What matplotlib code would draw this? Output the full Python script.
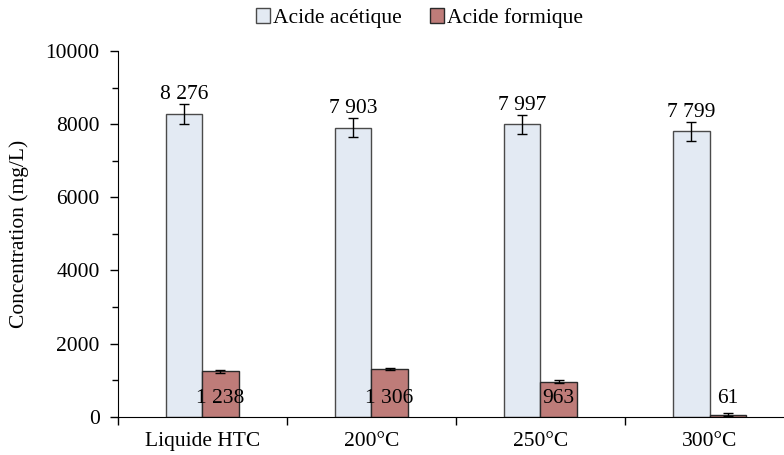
import numpy as np
import matplotlib
matplotlib.use("Agg")
import matplotlib.pyplot as plt
from matplotlib.ticker import MultipleLocator

# Data
categories = ["Liquide HTC", "200°C", "250°C", "300°C"]
acetique = [8276, 7903, 7997, 7799]
acetique_err = [265, 265, 255, 260]
formique = [1238, 1306, 963, 61]
formique_err = [35, 35, 35, 40]
acetique_lbl = ["8 276", "7 903", "7 997", "7 799"]
formique_lbl = ["1 238", "1 306", "963", "61"]

plt.rcParams['font.family'] = ['Liberation Serif', 'DejaVu Serif']
fs = 15.5

fig = plt.figure(figsize=(7.84, 4.55), dpi=100)
ax = fig.add_axes([0.15, 0.084, 0.85, 0.804])

x = np.arange(len(categories))
w = 0.216
err_kw = dict(ecolor='black', capsize=3.5, elinewidth=1.0, capthick=1.0)
b1 = ax.bar(x - w / 2, acetique, w, yerr=acetique_err, color='#E3EAF3',
            edgecolor='#4a4a4a', linewidth=1.0, error_kw=err_kw, label='Acide acétique')
b2 = ax.bar(x + w / 2, formique, w, yerr=formique_err, color='#BE7C79',
            edgecolor='#2a2a2a', linewidth=1.0, error_kw=err_kw, label='Acide formique')

# value labels
for xi, v, e, t in zip(x - w / 2, acetique, acetique_err, acetique_lbl):
    ax.annotate(t, (xi, v + e), xytext=(0, 0), textcoords='offset points',
                ha='center', va='bottom', fontsize=fs)
for xi, t in zip(x + w / 2, formique_lbl):
    ax.annotate(t, (xi, 0), xytext=(0, 13), textcoords='offset points',
                ha='center', va='center', fontsize=fs)

ax.set_ylim(0, 10000)
ax.set_xlim(-0.5, 3.44)
ax.yaxis.set_major_locator(MultipleLocator(2000))
ax.yaxis.set_minor_locator(MultipleLocator(1000))
ax.set_xticks(x)
ax.set_xticklabels(categories)
ax.set_xticks(np.arange(-0.5, 3.0, 1.0), minor=True)
ax.tick_params(axis='x', which='major', length=0, labelsize=fs, pad=11)
ax.tick_params(axis='x', which='minor', length=6, direction='out', width=1)
ax.tick_params(axis='y', which='both', direction='out', width=1, labelsize=fs, pad=7)
ax.tick_params(axis='y', which='major', length=6)
ax.tick_params(axis='y', which='minor', length=4)

for s in ['top', 'right']:
    ax.spines[s].set_visible(False)
ax.spines['left'].set_color('black')
ax.spines['bottom'].set_color('black')

ax.set_ylabel('Concentration (mg/L)', fontsize=fs, labelpad=12)

fig.legend(handles=[b1, b2], loc='upper center', bbox_to_anchor=(0.535, 1.025),
           ncol=2, frameon=False, fontsize=fs, handlelength=0.65, handleheight=0.65,
           handletextpad=0.15, columnspacing=1.3)

fig.savefig('out.png', dpi=100)
